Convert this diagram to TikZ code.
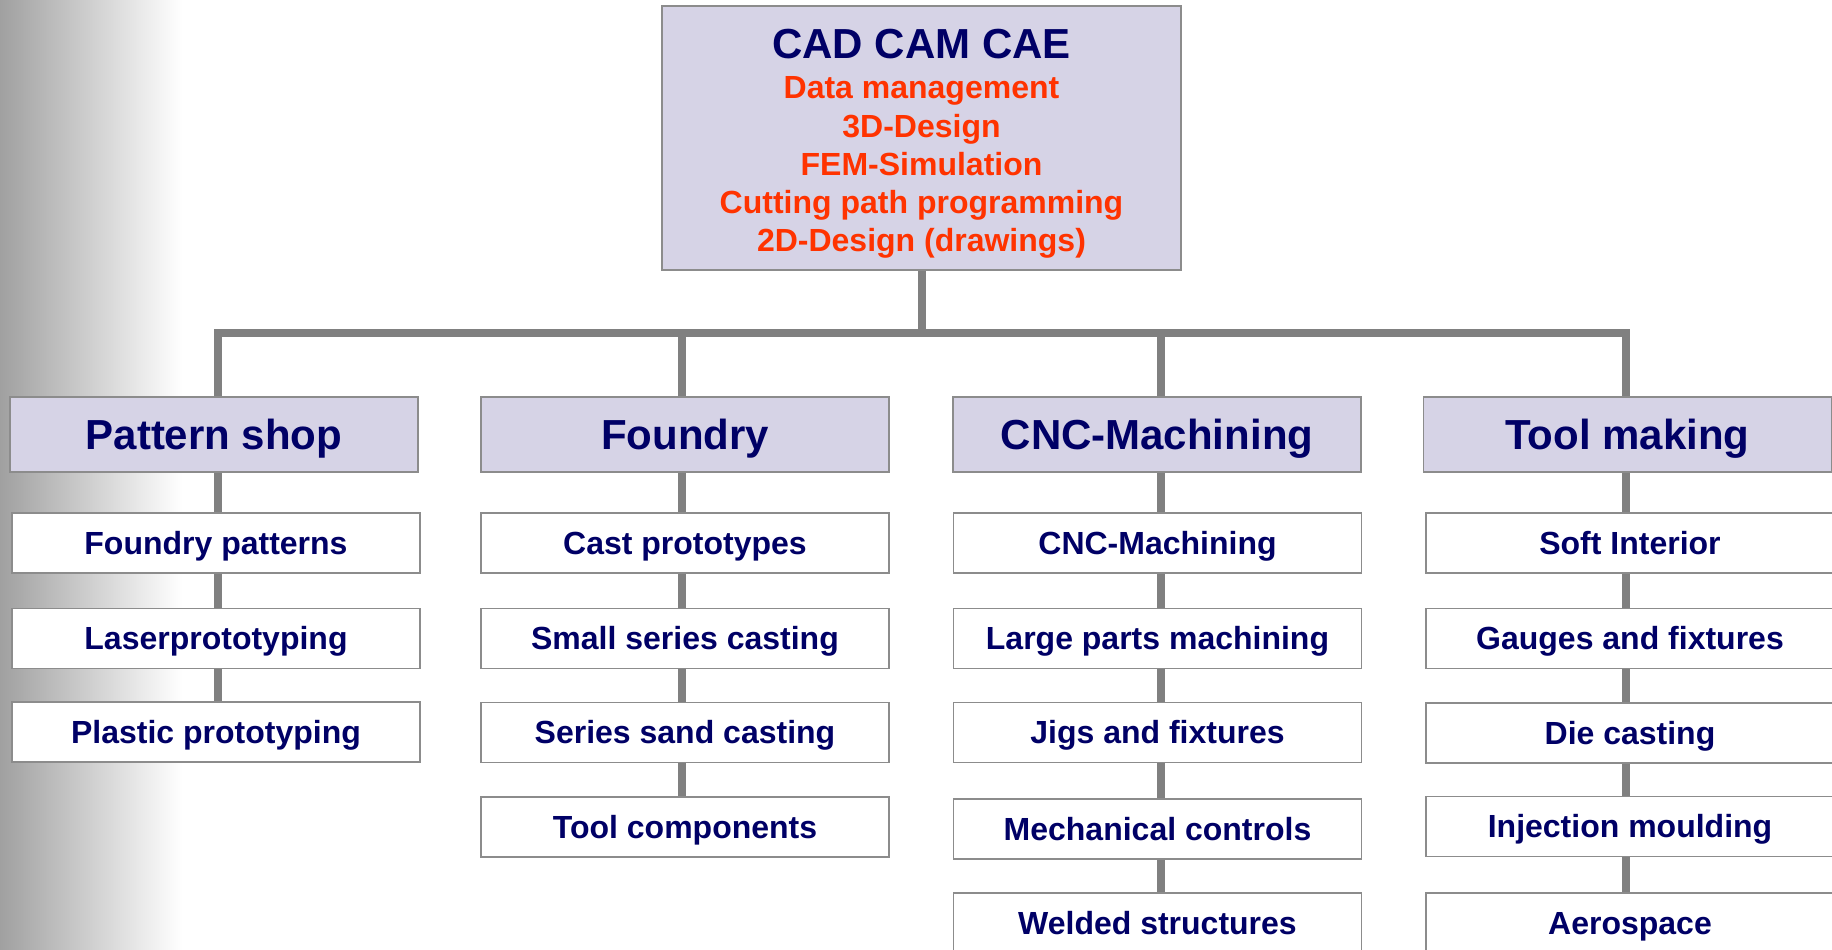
\documentclass[tikz,border=0pt]{standalone}
\usepackage{fontspec}
\setmainfont{Liberation Sans}
\definecolor{navytext}{RGB}{0,0,102}
\definecolor{redtext}{RGB}{255,51,0}
\definecolor{lavender}{RGB}{214,211,230}
\definecolor{boxedge}{RGB}{140,140,140}
\definecolor{linkgray}{RGB}{128,128,128}
\definecolor{edgegray}{RGB}{160,160,160}
\newcommand\bigfont{\fontsize{42}{50}\selectfont\bfseries}
\newcommand\smallfont{\fontsize{32}{38}\selectfont\bfseries}
\tikzset{
  hdrbox/.style={draw=boxedge, line width=1.5pt, fill=lavender, text=navytext,
    font=\bigfont, minimum width=408pt, minimum height=75pt, inner sep=0pt,
    text height=30.1pt, text depth=0pt},
  itembox/.style={draw=boxedge, line width=1.5pt, fill=white, text=navytext,
    font=\smallfont, minimum width=408pt, minimum height=60pt, inner sep=0pt,
    text height=22.9pt, text depth=0pt},
  link/.style={draw=linkgray, line width=8pt, line join=miter},
  redline/.style={anchor=base, inner sep=0pt, text=redtext, font=\smallfont}
}
\begin{document}
\begin{tikzpicture}[x=1pt, y=-1pt]
\useasboundingbox (0,0) rectangle (1832,950);
\clip (0,0) rectangle (1832,950);
% page background with grey fade on the left edge
\fill[white] (0,0) rectangle (1832,950);
\shade[left color=edgegray, right color=white] (0,0) rectangle (182,950);

% top box
\node[draw=boxedge, line width=1.5pt, fill=lavender, minimum width=519pt,
      minimum height=264pt, inner sep=0pt] (top) at (921.5,138) {};
\node[anchor=base, inner sep=0pt, text=navytext, font=\bigfont] (toptitle) at (921.5,58.3) {CAD CAM CAE};
\node[redline] (topA) at (921.5,99)   {Data management};
\node[redline] (topB) at (921.5,137.3) {3D-Design};
\node[redline] (topC) at (921.5,175.7) {FEM-Simulation};
\node[redline] (topD) at (921.5,213.3) {Cutting path programming};
\node[redline] (topE) at (921.5,251.7) {2D-Design (drawings)};

% column headers
\node[hdrbox] (h1) at (214,434.5)    {Pattern shop};
\node[hdrbox] (h2) at (685,434.5)    {Foundry};
\node[hdrbox] (h3) at (1157,434.5)   {CNC-Machining};
\node[hdrbox] (h4) at (1627.5,434.5) {Tool making};

% Pattern shop
\node[itembox] (a1) at (216,543)   {Foundry patterns};
\node[itembox] (a2) at (216,638.5) {Laserprototyping};
\node[itembox] (a3) at (216,732)   {Plastic prototyping};
% Foundry
\node[itembox] (b1) at (685,543)   {Cast prototypes};
\node[itembox] (b2) at (685,638.5) {Small series casting};
\node[itembox] (b3) at (685,732.5) {Series sand casting};
\node[itembox] (b4) at (685,827)   {Tool components};
% CNC-Machining
\node[itembox] (c1) at (1157.5,543)   {CNC-Machining};
\node[itembox] (c2) at (1157.5,638.5) {Large parts machining};
\node[itembox] (c3) at (1157.5,732.5) {Jigs and fixtures};
\node[itembox] (c4) at (1157.5,829)   {Mechanical controls};
\node[itembox] (c5) at (1157.5,923)   {Welded structures};
% Tool making
\node[itembox] (d1) at (1630,543)   {Soft Interior};
\node[itembox] (d2) at (1630,638.5) {Gauges and fixtures};
\node[itembox] (d3) at (1630,733)   {Die casting};
\node[itembox] (d4) at (1630,826.5) {Injection moulding};
\node[itembox] (d5) at (1630,923)   {Aerospace};

% bus bar
\coordinate (hub)  at (921.5,333);
\coordinate (colA) at (217.5,333);
\coordinate (colB) at (681.7,333);
\coordinate (colC) at (1161,333);
\coordinate (colD) at (1626,333);
\draw[link] (top.south) -- (hub);
\draw[link] (h1.north -| colA) -- (colA) -- (colD) -- (h4.north -| colD);
\draw[link] (h2.north -| colB) -- (colB);
\draw[link] (h3.north -| colC) -- (colC);

% vertical chains inside each column
\foreach \u/\v in {h1/a1,a1/a2,a2/a3}
  \draw[link] (\u.south -| colA) -- (\v.north -| colA);
\foreach \u/\v in {h2/b1,b1/b2,b2/b3,b3/b4}
  \draw[link] (\u.south -| colB) -- (\v.north -| colB);
\foreach \u/\v in {h3/c1,c1/c2,c2/c3,c3/c4,c4/c5}
  \draw[link] (\u.south -| colC) -- (\v.north -| colC);
\foreach \u/\v in {h4/d1,d1/d2,d2/d3,d3/d4,d4/d5}
  \draw[link] (\u.south -| colD) -- (\v.north -| colD);
\end{tikzpicture}
\end{document}
